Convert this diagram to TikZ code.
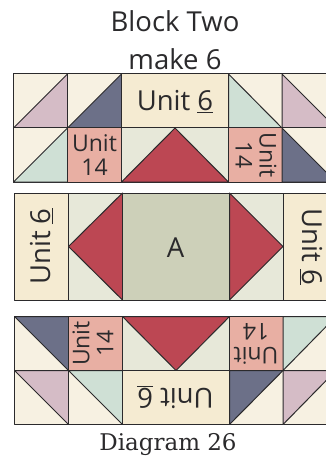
\documentclass[tikz,border=0pt]{standalone}
\usepackage{fontspec}
\usepackage{xcolor}
\setmainfont{Open Sans}
\newfontfamily\slabfont{DejaVu Serif}
\definecolor{cream}{HTML}{F7F1E2}
\definecolor{butter}{HTML}{F5EBD2}
\definecolor{mauve}{HTML}{D5BCC6}
\definecolor{navy}{HTML}{6C7088}
\definecolor{mint}{HTML}{CFE0D5}
\definecolor{salmon}{HTML}{E8AFA3}
\definecolor{sage}{HTML}{E7E8D9}
\definecolor{olive}{HTML}{CDD0B9}
\definecolor{berry}{HTML}{BC4753}
\definecolor{ink}{HTML}{2B2A2C}
\tikzset{
  seam/.style={draw=ink,line width=1pt,line join=round},
  unitlabel/.style={text=ink,font=\fontsize{27.5}{27.5}\selectfont,inner sep=0pt},
  smalllabel/.style={text=ink,font=\fontsize{23}{24}\selectfont,inner sep=0pt,align=center},
  titlelabel/.style={text=ink,font=\fontsize{27.5}{27.5}\selectfont,inner sep=0pt}
}
\begin{document}
\begin{tikzpicture}[x=1pt,y=-1pt]
\useasboundingbox (0,0) rectangle (326,457);
\fill[white] (0,0) rectangle (326,457);
\node[titlelabel] (blocktitle) at (175,21) {Block Two};
\node[titlelabel] (maketitle) at (175,59) {make 6};
% top strip
\filldraw[seam,fill=cream] (13.5,74) rectangle (67.5,128);
\filldraw[seam,fill=mauve] (13.5,128) -- (67.5,74) -- (67.5,128) -- cycle;
\filldraw[seam,fill=cream] (67.5,74) rectangle (121.5,128);
\filldraw[seam,fill=navy] (67.5,128) -- (121.5,74) -- (121.5,128) -- cycle;
\filldraw[seam,fill=butter] (121.5,74) rectangle (228.5,128);
\filldraw[seam,fill=cream] (228.5,74) rectangle (282,128);
\filldraw[seam,fill=mint] (228.5,74) -- (282,128) -- (228.5,128) -- cycle;
\filldraw[seam,fill=cream] (282,74) rectangle (336,128);
\filldraw[seam,fill=mauve] (282,74) -- (336,128) -- (282,128) -- cycle;
\filldraw[seam,fill=cream] (13.5,128) rectangle (67.5,182);
\filldraw[seam,fill=mint] (13.5,182) -- (67.5,128) -- (67.5,182) -- cycle;
\filldraw[seam,fill=salmon] (67.5,128) rectangle (121.5,182);
\filldraw[seam,fill=sage] (121.5,128) rectangle (228.5,182);
\filldraw[seam,fill=berry] (121.5,182) -- (175,128) -- (228.5,182) -- cycle;
\filldraw[seam,fill=salmon] (228.5,128) rectangle (282,182);
\filldraw[seam,fill=cream] (282,128) rectangle (336,182);
\filldraw[seam,fill=navy] (282,128) -- (336,182) -- (282,182) -- cycle;
\node[unitlabel] (topunit) at (175,102) {Unit \underline{6}};
\node[smalllabel] (topleftunit) at (94.5,155) {Unit\\14};
\node[smalllabel,rotate=-90] (toprightunit) at (256,155) {Unit\\14};
% middle strip
\filldraw[seam,fill=butter] (14.5,193) rectangle (68.5,300);
\filldraw[seam,fill=sage] (68.5,193) rectangle (122.5,300);
\filldraw[seam,fill=berry] (122.5,193) -- (68.5,246.5) -- (122.5,300) -- cycle;
\filldraw[seam,fill=olive] (122.5,193) rectangle (229.5,300);
\filldraw[seam,fill=sage] (229.5,193) rectangle (283,300);
\filldraw[seam,fill=berry] (229.5,193) -- (283,246.5) -- (229.5,300) -- cycle;
\filldraw[seam,fill=butter] (283,193) rectangle (336,300);
\node[unitlabel,rotate=90] (leftunit) at (41.5,246.5) {Unit \underline{6}};
\node[unitlabel] (centre) at (175.5,248) {A};
\node[unitlabel,rotate=-90] (rightunit) at (311,247) {Unit \underline{6}};
% bottom strip
\filldraw[seam,fill=cream] (14.5,316.5) rectangle (68.5,370.5);
\filldraw[seam,fill=navy] (14.5,316.5) -- (68.5,316.5) -- (68.5,370.5) -- cycle;
\filldraw[seam,fill=salmon] (68.5,316.5) rectangle (122.5,370.5);
\filldraw[seam,fill=sage] (122.5,316.5) rectangle (229.5,370.5);
\filldraw[seam,fill=berry] (122.5,316.5) -- (229.5,316.5) -- (176,370.5) -- cycle;
\filldraw[seam,fill=salmon] (229.5,316.5) rectangle (283,370.5);
\filldraw[seam,fill=cream] (283,316.5) rectangle (336,370.5);
\filldraw[seam,fill=mint] (283,316.5) -- (336,316.5) -- (283,370.5) -- cycle;
\filldraw[seam,fill=cream] (14.5,370.5) rectangle (68.5,424.5);
\filldraw[seam,fill=mauve] (14.5,370.5) -- (68.5,370.5) -- (68.5,424.5) -- cycle;
\filldraw[seam,fill=cream] (68.5,370.5) rectangle (122.5,424.5);
\filldraw[seam,fill=mint] (68.5,370.5) -- (122.5,370.5) -- (122.5,424.5) -- cycle;
\filldraw[seam,fill=butter] (122.5,370.5) rectangle (229.5,424.5);
\filldraw[seam,fill=cream] (229.5,370.5) rectangle (283,424.5);
\filldraw[seam,fill=navy] (229.5,370.5) -- (283,370.5) -- (229.5,424.5) -- cycle;
\filldraw[seam,fill=cream] (283,370.5) rectangle (336,424.5);
\filldraw[seam,fill=mauve] (283,370.5) -- (336,370.5) -- (283,424.5) -- cycle;
\node[smalllabel,rotate=90] (lowleftunit) at (93,343.5) {Unit\\14};
\node[smalllabel,rotate=180] (lowrightunit) at (256,343.5) {Unit\\14};
\node[unitlabel,rotate=180] (lowunit) at (175.5,397) {Unit \underline{6}};
\node[text=ink,font=\slabfont\fontsize{23}{23}\selectfont,inner sep=0pt] (caption) at (168,445) {Diagram 26};
\end{tikzpicture}
\end{document}
